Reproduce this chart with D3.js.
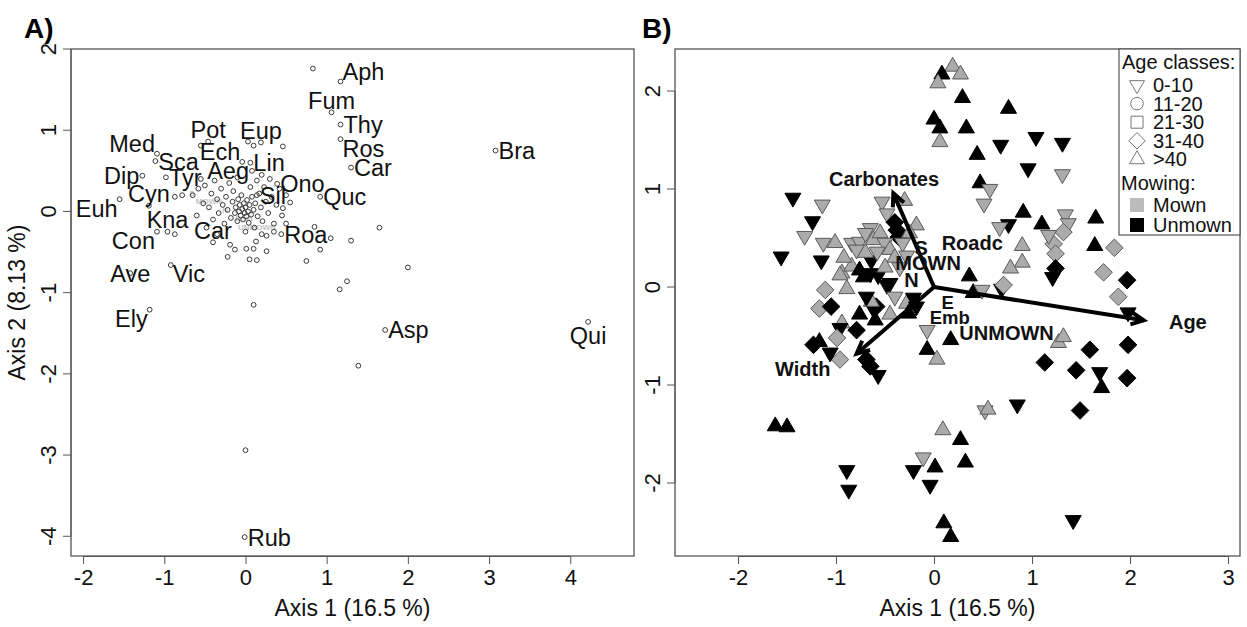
<!DOCTYPE html>
<html><head><meta charset="utf-8">
<script src="https://cdn.jsdelivr.net/npm/d3@7"></script>
<style>body{margin:0;background:#fff;} svg{display:block;font-family:"Liberation Sans",Arial,Helvetica,sans-serif;}</style>
</head><body><svg id="c" width="1247" height="627"></svg>
<script>
// ---------- Panel A: species scores ----------
const spNames = ["Aph","Fum","Thy","Ros","Car","Bra","Quc","Ono","Sil","Roa","Car","Pot","Eup","Med","Sca","Ech","Lin","Aeg","Tyr","Dip","Cyn","Euh","Kna","Con","Ave","Vic","Ely","Asp","Qui","Rub"];
const spX = [1.17,1.06,1.17,1.17,1.30,3.08,0.92,0.39,0.14,0.44,-0.40,-0.46,0.19,-1.09,-1.11,-0.04,0.06,0.08,-0.98,-1.27,-1.19,-1.55,-0.96,-1.09,-1.42,-0.92,-1.18,1.72,4.22,-0.01];
const spY = [1.60,1.22,1.07,0.89,0.54,0.75,0.18,0.34,0.20,-0.28,-0.38,0.86,0.85,0.71,0.62,0.61,0.60,0.50,0.42,0.44,0.07,0.15,-0.25,-0.25,-0.76,-0.66,-1.21,-1.46,-1.36,-4.01];
const spPos = ["NE","N","E","SE","E","E","E","E","E","E","N","N","N","NW","E","NW","E","W","E","W","N","SW","N","SW","C","SE","SW","E","S","E"];
const otherX = [0.83,0.46,0.55,0.46,0.50,0.85,1.65,1.05,1.30,0.92,0.75,2.00,1.25,1.16,0.03,-0.87,-0.78,-0.87,-0.19,-0.13,0.01,0.10,0.13,0.20,0.26,-0.22,0.05,0.14,0.10,0.00,1.39,-0.55,0.10,
 -0.65,-0.58,-0.52,-0.50,-0.45,-0.42,-0.40,-0.38,-0.35,-0.33,-0.30,-0.28,-0.26,-0.24,-0.22,-0.20,-0.18,-0.16,-0.15,-0.13,-0.12,-0.10,-0.09,-0.08,-0.07,-0.06,-0.05,-0.04,-0.03,-0.02,-0.01,0.00,0.01,0.02,0.03,0.04,0.05,0.06,0.07,0.08,0.10,0.11,0.12,0.14,0.15,0.17,0.19,0.21,0.23,0.25,0.28,0.30,0.32,0.35,0.38,0.42,0.45,0.50,-0.60,-0.48,-0.55,0.20,-0.10,0.35,-0.35,0.00,0.26];
const otherY = [1.76,0.80,0.11,0.04,-0.15,-0.19,-0.20,-0.33,-0.36,-0.47,-0.61,-0.69,-0.86,-0.96,0.86,0.18,0.20,-0.28,-0.41,-0.47,-0.46,-0.46,-0.37,-0.28,-0.49,-0.56,-0.59,-0.60,-1.15,-2.94,-1.90,0.81,0.81,
 0.20,0.28,0.10,0.32,0.05,0.22,-0.10,0.38,0.15,-0.02,0.28,0.08,-0.15,0.18,0.02,0.35,-0.08,0.12,0.25,-0.02,0.05,-0.12,0.15,0.00,0.08,-0.05,0.20,0.03,-0.10,0.10,-0.02,0.05,-0.06,0.14,0.00,-0.14,0.08,0.30,-0.04,0.18,0.02,-0.20,0.10,0.38,-0.06,0.22,0.05,-0.12,0.30,0.12,-0.02,0.40,0.18,-0.15,0.08,0.28,-0.05,0.20,-0.05,-0.20,0.40,0.45,0.42,-0.25,-0.28,-0.25,-0.30];
const greyLabels = ["MOWN","S","N","Emb","UNMOWN"];
const greyX = [-0.45,-0.66,-0.25,-0.02,0.14];
const greyY = [0.12,0.22,0.02,-0.08,-0.20];

// ---------- Panel B: site scores ----------
const ageClasses = ["0-10","11-20","21-30","31-40",">40"];
const mowClasses = ["Mown","Unmown"];
// age: 0 = 0-10 (down-tri), 1 = 11-20, 2 = 21-30, 3 = 31-40 (diamond), 4 = >40 (up-tri)
// mow: 0 = Mown (grey), 1 = Unmown (black)
const siteX = [0.19,0.08,0.27,0.04,0.29,0.76,0.00,0.06,0.33,0.06,0.68,1.04,1.31,0.44,0.96,1.31,0.47,0.57,0.51,
 -1.44,-1.14,-1.24,-1.32,-1.13,-1.01,-1.56,-1.15,-0.84,0.90,0.90,0.78,0.91,0.76,1.10,1.34,1.37,1.32,1.22,1.24,1.24,1.21,1.17,1.65,1.64,0.67,0.36,0.69,0.71,
 -1.11,-0.89,-0.94,-0.84,-0.53,-0.30,-0.48,-0.40,-0.38,-0.36,-0.18,-0.65,-0.76,-0.62,-0.79,-0.64,-0.57,-0.72,-0.45,
 -1.17,-1.05,-0.94,-0.96,-0.79,-0.76,-0.62,-0.60,-0.59,-1.17,-1.23,-0.99,-0.96,-0.65,-0.69,-1.06,-0.76,-0.96,-0.65,-0.48,-0.64,-0.69,-0.40,-0.45,-0.28,-0.21,-0.18,-0.26,-0.07,-0.07,0.03,0.17,0.40,0.49,1.13,1.27,
 -0.70,-0.55,-0.50,-0.45,-0.70,-0.58,-0.32,-0.25,-0.40,-0.50,-0.92,-0.35,-0.28,
 -0.57,0.09,0.27,0.32,-0.11,0.01,-0.04,-0.21,0.10,0.17,0.52,0.85,0.55,1.42,1.32,1.59,1.98,1.69,1.97,1.71,1.49,1.45,1.73,1.88,1.84,1.97,-1.62,-1.50,-0.89,-0.87,1.98];
const siteY = [2.25,2.17,2.17,2.08,1.93,1.82,1.71,1.62,1.62,1.48,1.45,1.53,1.47,1.35,1.21,1.15,1.06,1.00,0.85,
 0.91,0.84,0.67,0.52,0.45,0.45,0.31,0.27,0.45,0.42,0.25,0.19,0.76,0.64,0.64,0.74,0.65,0.56,0.44,0.34,0.19,0.10,0.53,0.70,0.42,0.61,0.11,-0.02,0.02,
 -0.03,-0.02,0.14,0.21,0.87,0.88,0.75,0.66,0.58,0.51,0.63,0.60,0.46,0.48,0.38,0.27,0.12,0.10,0.04,
 -0.22,-0.20,-0.37,-0.42,-0.44,-0.28,-0.22,-0.34,-0.20,-0.56,-0.59,-0.52,-0.74,-0.81,-0.74,-0.67,0.17,0.12,0.14,0.02,-0.15,-0.10,-0.10,-0.28,-0.17,-0.11,-0.20,-0.27,-0.44,-0.64,-0.74,-0.54,-0.06,-0.03,-0.77,-0.57,
 0.55,0.55,0.45,0.38,0.35,0.36,0.45,0.55,0.30,0.20,0.30,0.20,0.32,
 -0.90,-1.46,-1.56,-1.79,-1.74,-1.84,-2.02,-1.87,-2.41,-2.55,-1.26,-1.20,-1.25,-2.38,-0.51,-0.64,-0.59,-0.87,-0.93,-1.03,-1.26,-0.85,0.15,-0.10,0.40,0.07,-1.42,-1.43,-1.87,-2.07,-0.26];
const siteAge = [4,4,4,4,4,4,4,4,4,4,0,0,0,4,0,0,4,0,0,
 0,0,0,0,0,4,0,0,0,4,4,4,4,0,4,0,0,3,3,3,3,0,0,4,4,0,4,0,3,
 3,4,4,4,0,4,0,3,3,3,4,0,0,4,0,0,0,4,0,
 3,3,4,0,3,4,0,4,3,4,3,3,3,3,3,0,4,4,0,0,4,0,0,4,4,0,0,4,0,4,4,4,4,0,3,4,
 0,4,0,4,4,0,0,4,4,4,4,0,0,
 0,4,4,4,0,4,0,0,4,4,0,0,4,0,4,3,3,0,3,4,3,3,3,3,3,3,4,4,0,0,0];
const siteMow = [0,1,0,0,1,1,1,1,1,0,1,1,1,1,1,0,1,0,0,
 1,0,1,0,0,0,1,1,0,0,0,0,1,1,1,0,0,0,0,0,1,1,0,1,1,0,1,1,0,
 0,0,0,0,0,0,0,1,1,1,0,0,0,0,0,1,1,1,1,
 0,1,0,1,1,1,1,1,1,1,1,0,0,1,1,1,1,0,1,1,0,1,0,0,0,1,1,1,0,1,0,1,1,0,1,0,
 0,0,0,0,0,0,0,0,0,0,0,0,0,
 1,0,1,1,0,1,1,1,1,1,0,1,0,1,0,1,1,1,1,1,1,1,0,0,0,1,1,1,1,1,1];

const vecNames = ["Carbonates","Width","Age"];
const vecX = [-0.415,-0.79,2.14];
const vecY = [0.956,-0.68,-0.34];
const vecLabX = [-0.51,-1.34,2.59];
const vecLabY = [1.10,-0.84,-0.36];
const factNames = ["S","Roadc","MOWN","N","E","Emb","UNMOWN"];
const factX = [-0.13,0.39,-0.06,-0.23,0.14,0.16,0.74];
const factY = [0.40,0.45,0.25,0.07,-0.16,-0.31,-0.47];

const ticksA_x = [-2,-1,0,1,2,3,4];
const ticksA_y = [2,1,0,-1,-2,-3,-4];
const ticksB_x = [-2,-1,0,1,2,3];
const ticksB_y = [2,1,0,-1,-2];

// ---------- drawing ----------
const svg = d3.select("#c");
const FONT = 22;
const fmt = d => String(d);

function panel(g, x, y, xt, yt, withYTitle) {
  const [x0,x1] = x.range(), [y1,y0] = y.range();
  g.append("rect").attr("x",x0).attr("y",y0).attr("width",x1-x0).attr("height",y1-y0)
    .attr("fill","none").attr("stroke","#555").attr("stroke-width",1.3);
  const ax = d3.axisBottom(x).tickValues(xt).tickSize(8).tickPadding(5).tickFormat(fmt);
  const gx = g.append("g").attr("transform",`translate(0,${y1})`).call(ax);
  gx.select(".domain").attr("d",`M${x(xt[0])},0.5H${x(xt[xt.length-1])}`).attr("stroke","#555");
  gx.selectAll(".tick line").attr("stroke","#555");
  gx.selectAll("text").attr("font-size",FONT).attr("fill","#111").attr("font-family","Liberation Sans, Arial, sans-serif");
  const gy = g.append("g").attr("transform",`translate(${x0},0)`);
  gy.append("line").attr("x1",0).attr("x2",0).attr("y1",y(yt[0])).attr("y2",y(yt[yt.length-1])).attr("stroke","#555");
  yt.forEach(t=>{
    gy.append("line").attr("x1",0).attr("x2",-8).attr("y1",y(t)).attr("y2",y(t)).attr("stroke","#555");
    gy.append("text").attr("transform",`translate(-15,${y(t)}) rotate(-90)`).attr("text-anchor","middle")
      .attr("font-size",FONT).attr("fill","#111").text(fmt(t));
  });
  g.append("text").attr("x",(x0+x1)/2).attr("y",616).attr("text-anchor","middle").attr("font-size",23).attr("fill","#111").text("Axis 1 (16.5 %)");
  if (withYTitle) g.append("text").attr("transform",`translate(25,${(y0+y1)/2}) rotate(-90)`).attr("text-anchor","middle")
      .attr("font-size",23).attr("fill","#111").text("Axis 2 (8.13 %)");
}

// Panel A scales (equal aspect)
const xA = d3.scaleLinear().domain([-2.149,4.785]).range([71,634]);
const yA = d3.scaleLinear().domain([-4.243,2.0]).range([556,49]);
const gA = svg.append("g");
panel(gA, xA, yA, ticksA_x, ticksA_y, true);
gA.append("text").attr("x",24).attr("y",38).attr("font-size",28).attr("font-weight","bold").text("A)");

// grey small labels in the centre
greyLabels.forEach((t,i)=>{
  gA.append("text").attr("x",xA(greyX[i])).attr("y",yA(greyY[i])).attr("text-anchor","middle").attr("dy","0.35em")
    .attr("font-size",8).attr("font-weight","bold").attr("fill","#c4c4c4").text(t);
});
// points
const allAX = otherX.concat(spX), allAY = otherY.concat(spY);
gA.selectAll("circle.sp").data(allAX).join("circle").attr("class","sp")
  .attr("cx",(d)=>xA(d)).attr("cy",(d,i)=>yA(allAY[i])).attr("r",2.4)
  .attr("fill","none").attr("stroke","#3a3a3a").attr("stroke-width",1);
// labels
const LF = 23.5;
spNames.forEach((t,i)=>{
  const px = xA(spX[i]), py = yA(spY[i]);
  const p = spPos[i];
  let anchor="middle", tx=px, cy=py;
  if (p==="E"){anchor="start";tx=px+3;}
  else if (p==="W"){anchor="end";tx=px-3;}
  else if (p==="N"){cy=py-12;}
  else if (p==="S"){cy=py+14;}
  else if (p==="NE"){anchor="start";tx=px+2;cy=py-10;}
  else if (p==="NW"){anchor="end";tx=px-2;cy=py-10;}
  else if (p==="SE"){anchor="start";tx=px+2;cy=py+9;}
  else if (p==="SW"){anchor="end";tx=px-2;cy=py+9;}
  gA.append("text").attr("x",tx).attr("y",cy+LF*0.36).attr("text-anchor",anchor)
    .attr("font-size",LF).attr("fill","#111").text(t);
});

// Panel B
const xB = d3.scaleLinear().domain([-2.643,3.122]).range([675,1240]);
const yB = d3.scaleLinear().domain([-2.745,2.429]).range([556,49]);
const gB = svg.append("g");
panel(gB, xB, yB, ticksB_x, ticksB_y, false);
gB.append("text").attr("x",642).attr("y",38).attr("font-size",28).attr("font-weight","bold").text("B)");

function shapePath(age, s) {
  const h = s*0.866;
  if (age===0) return `M${-s/2},${-h/3}L${s/2},${-h/3}L0,${2*h/3}Z`;
  if (age===4) return `M${-s/2},${h/3}L${s/2},${h/3}L0,${-2*h/3}Z`;
  if (age===3) { const r=s*0.55; return `M0,${-r}L${r},0L0,${r}L${-r},0Z`; }
  if (age===2) { const r=s*0.4; return `M${-r},${-r}H${r}V${r}H${-r}Z`; }
  const r=s*0.42; return `M${r},0A${r},${r} 0 1,1 ${-r},0A${r},${r} 0 1,1 ${r},0Z`;
}
const fillMow = ["#ababab","#000"];
const strokeMow = ["#5a5a5a","#000"];
gB.selectAll("path.site").data(siteX).join("path").attr("class","site")
  .attr("transform",(d,i)=>`translate(${xB(d)},${yB(siteY[i])})`)
  .attr("d",(d,i)=>shapePath(siteAge[i],16))
  .attr("fill",(d,i)=>fillMow[siteMow[i]]).attr("stroke",(d,i)=>strokeMow[siteMow[i]]).attr("stroke-width",1);

// vectors
vecNames.forEach((n,i)=>{
  const x0=xB(0), y0=yB(0), x1=xB(vecX[i]), y1=yB(vecY[i]);
  gB.append("line").attr("x1",x0).attr("y1",y0).attr("x2",x1).attr("y2",y1).attr("stroke","#000").attr("stroke-width",4);
  const a = Math.atan2(y1-y0,x1-x0), L=14, w=Math.PI/7;
  gB.append("path").attr("d",`M${x1-L*Math.cos(a-w)},${y1-L*Math.sin(a-w)}L${x1},${y1}L${x1-L*Math.cos(a+w)},${y1-L*Math.sin(a+w)}`)
    .attr("fill","none").attr("stroke","#000").attr("stroke-width",4).attr("stroke-linejoin","miter");
  gB.append("text").attr("x",xB(vecLabX[i])).attr("y",yB(vecLabY[i])).attr("dy","0.35em").attr("text-anchor","middle")
    .attr("font-size",20).attr("font-weight","bold").attr("fill","#111").text(n);
});
factNames.forEach((n,i)=>{
  gB.append("text").attr("x",xB(factX[i])).attr("y",yB(factY[i])).attr("dy","0.35em").attr("text-anchor","middle")
    .attr("font-size",i===4||i===5?18.5:20).attr("font-weight","bold").attr("fill","#111").text(n);
});

// legend
const lg = gB.append("g");
lg.append("rect").attr("x",1119).attr("y",49).attr("width",121).attr("height",186).attr("fill","#fff").attr("stroke","#555").attr("stroke-width",1.2);
lg.append("text").attr("x",1122).attr("y",62+7).attr("font-size",20).attr("fill","#111").text("Age classes:");
ageClasses.forEach((t,i)=>{
  const cy = 85 + i*18.6;
  lg.append("path").attr("transform",`translate(1137,${cy})`).attr("d",shapePath(i,15))
    .attr("fill","none").attr("stroke","#777").attr("stroke-width",1);
  lg.append("text").attr("x",1153).attr("y",cy+7).attr("font-size",20).attr("fill","#111").text(t);
});
lg.append("text").attr("x",1121).attr("y",183+7).attr("font-size",20).attr("fill","#111").text("Mowing:");
mowClasses.forEach((t,i)=>{
  const cy = 205 + i*20;
  lg.append("rect").attr("x",1130).attr("y",cy-7).attr("width",14).attr("height",14).attr("fill",i?"#000":"#bbb");
  lg.append("text").attr("x",1153).attr("y",cy+7).attr("font-size",20).attr("fill","#111").text(t);
});
</script></body></html>
